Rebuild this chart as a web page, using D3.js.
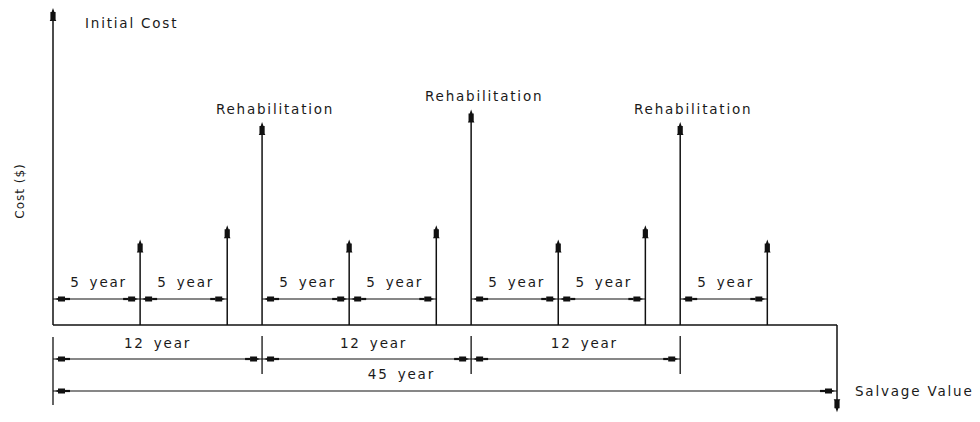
<!DOCTYPE html>
<html>
<head>
<meta charset="utf-8">
<script src="https://cdn.jsdelivr.net/npm/d3@7"></script>
<style>
  html, body { margin: 0; padding: 0; background: #fff; }
  svg text { font-family: "DejaVu Sans", sans-serif; fill: #1a1a1a; }
</style>
</head>
<body>
<svg id="chart" width="980" height="422"></svg>
<script>
// ---- data ----
const eventYears  = [0, 5, 10, 12, 17, 22, 24, 29, 34, 36, 41, 45];
const eventCosts  = [100, 27, 31.5, 64, 27, 31.5, 68, 27, 31.5, 64, 27, -27.5];
const eventLabels = ["Initial Cost", "", "", "Rehabilitation", "", "", "Rehabilitation", "", "", "Rehabilitation", "", "Salvage Value"];

const fiveYearStarts = [0, 5, 12, 17, 24, 29, 36];
const fiveYearEnds   = [5, 10, 17, 22, 29, 34, 41];
const twelveYearStarts = [0, 12, 24];
const twelveYearEnds   = [12, 24, 36];
const twelveYearLabelAt = [6, 18.4, 30.5];
const totalSpan = [0, 45];
const totalLabelAt = 20;
const yAxisTitle = "Cost ($)";

// ---- layout ----
const svg = d3.select("#chart");
const x = d3.scaleLinear().domain([0, 45]).range([53, 837]);
const y = d3.scaleLinear().domain([0, 100]).range([325, 8]);
const base = y(0);
const row5 = 299, row12 = 359, row45 = 391;
const ink = "#111";
const FS = 13.5, LS = 1.8;

function headUp(g, cx, tipY, dir) {
  const p = d3.path();
  const s = dir;
  p.moveTo(cx, tipY);
  p.lineTo(cx + 1.4, tipY + 4 * s);
  p.lineTo(cx + 2.6, tipY + 4 * s);
  p.lineTo(cx + 2.6, tipY + 11.5 * s);
  p.lineTo(cx + 3.3, tipY + 13 * s);
  p.lineTo(cx - 3.3, tipY + 13 * s);
  p.lineTo(cx - 2.6, tipY + 11.5 * s);
  p.lineTo(cx - 2.6, tipY + 4 * s);
  p.lineTo(cx - 1.4, tipY + 4 * s);
  p.closePath();
  g.append("path").attr("d", p.toString()).attr("fill", ink);
}
function headSide(g, tipX, cy, dir) {
  const p = d3.path();
  const s = -dir;
  p.moveTo(tipX, cy);
  p.lineTo(tipX + 3 * s, cy - 1);
  p.lineTo(tipX + 3 * s, cy - 2.4);
  p.lineTo(tipX + 10 * s, cy - 2.4);
  p.lineTo(tipX + 10 * s, cy + 2.4);
  p.lineTo(tipX + 3 * s, cy + 2.4);
  p.lineTo(tipX + 3 * s, cy + 1);
  p.closePath();
  g.append("path").attr("d", p.toString()).attr("fill", ink);
  g.append("line").attr("x1", tipX + 10 * s).attr("x2", tipX + 15 * s)
    .attr("y1", cy).attr("y2", cy).attr("stroke", ink).attr("stroke-width", 2.2);
}

const g = svg.append("g");

// baseline (time axis)
g.append("line").attr("x1", x(0)).attr("x2", x(45)).attr("y1", base).attr("y2", base)
  .attr("stroke", ink).attr("stroke-width", 1.5);

// cash-flow arrows
eventYears.forEach((yr, i) => {
  const cx = x(yr), c = eventCosts[i], ty = y(c);
  const dir = c >= 0 ? 1 : -1;
  g.append("line").attr("x1", cx).attr("x2", cx).attr("y1", base).attr("y2", ty + 6 * dir)
    .attr("stroke", ink).attr("stroke-width", 1.5);
  headUp(g, cx, ty, dir);
  const lab = eventLabels[i];
  if (!lab) return;
  if (i === 0) {
    g.append("text").attr("x", cx + 32).attr("y", 28).attr("font-size", FS)
      .attr("letter-spacing", LS).text(lab);
  } else if (c < 0) {
    g.append("text").attr("x", cx + 18).attr("y", row45 + 5).attr("font-size", FS)
      .attr("letter-spacing", LS).text(lab);
  } else {
    g.append("text").attr("x", cx + 13).attr("y", ty - 8).attr("font-size", FS)
      .attr("text-anchor", "middle").attr("letter-spacing", LS).text(lab);
  }
});

// dimension lines
function dim(x0, x1, rowY, label, labelX, labelY) {
  g.append("line").attr("x1", x0).attr("x2", x1).attr("y1", rowY).attr("y2", rowY)
    .attr("stroke", ink).attr("stroke-width", 1.2);
  headSide(g, x0 + 2, rowY, -1);
  headSide(g, x1 - 2, rowY, 1);
  g.append("text").attr("x", labelX).attr("y", labelY).attr("font-size", FS)
    .attr("text-anchor", "middle").attr("letter-spacing", LS).attr("word-spacing", 3).text(label);
}
fiveYearStarts.forEach((s, i) => {
  const e = fiveYearEnds[i];
  dim(x(s), x(e), row5, (e - s) + " year", (x(s) + x(e)) / 2 + 2, 287);
});
twelveYearStarts.forEach((s, i) => {
  const e = twelveYearEnds[i];
  dim(x(s), x(e), row12, (e - s) + " year", x(twelveYearLabelAt[i]), 348);
});
dim(x(totalSpan[0]), x(totalSpan[1]), row45, (totalSpan[1] - totalSpan[0]) + " year", x(totalLabelAt), 379);

// extension lines below the baseline
g.append("line").attr("x1", x(0)).attr("x2", x(0)).attr("y1", 337).attr("y2", 405)
  .attr("stroke", ink).attr("stroke-width", 1.3);
twelveYearEnds.forEach(e => {
  g.append("line").attr("x1", x(e)).attr("x2", x(e)).attr("y1", 336).attr("y2", 374)
    .attr("stroke", ink).attr("stroke-width", 1.3);
});

// y axis title
svg.append("text").attr("transform", "translate(24,191) rotate(-90)")
  .attr("text-anchor", "middle").attr("font-size", 12).attr("letter-spacing", 1).text(yAxisTitle);
</script>
</body>
</html>
